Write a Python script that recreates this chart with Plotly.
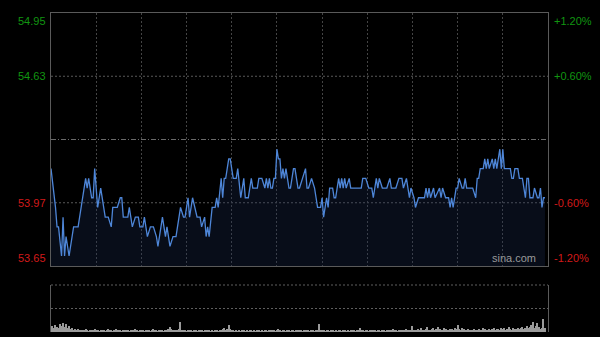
import plotly.graph_objects as go

# ---------------- data ----------------
prev_close = 54.30
pct_levels = [1.2, 0.6, 0.0, -0.6, -1.2]

# minute index (0 = 09:30, 330 = 16:00 trading minutes) and price at turning points
minute_idx = [0, 3, 4, 5, 7, 8, 9, 10, 12, 15, 18, 23, 24, 25, 27, 28, 29, 31, 33, 36,
              38, 40, 41, 44, 46, 47, 48, 51, 52, 54, 56, 58, 59, 61, 62, 64, 66, 68, 70, 71,
              72, 74, 76, 77, 78, 79, 81, 82, 83, 86, 88, 89, 91, 92, 94, 97, 99, 100, 102, 103,
              104, 105, 107, 109, 110, 111, 113, 114, 115, 116, 118, 119, 121, 123, 124, 126, 128, 129, 131, 133,
              134, 137, 138, 140, 142, 143, 144, 145, 146, 147, 148, 149, 150, 151, 152, 153, 154, 155, 156, 158,
              159, 161, 162, 164, 165, 167, 169, 170, 171, 173, 175, 176, 177, 179, 180, 181, 183, 184, 185, 187,
              188, 189, 191, 192, 193, 194, 195, 196, 198, 199, 206, 207, 209, 211, 213, 214, 216, 217, 218, 220,
              223, 225, 226, 229, 231, 233, 234, 236, 237, 238, 239, 241, 242, 244, 248, 249, 250, 251, 252, 254,
              255, 258, 259, 260, 262, 264, 265, 266, 267, 268, 269, 270, 271, 273, 274, 275, 276, 280, 282, 283,
              284, 285, 287, 288, 289, 290, 291, 293, 294, 295, 296, 297, 298, 299, 300, 301, 304, 305, 306, 307,
              308, 310, 311, 313, 315, 316, 317, 318, 320, 321, 323, 324, 325, 326, 327, 328]
prices = [54.15, 53.95, 53.85, 53.85, 53.70, 53.90, 53.70, 53.80, 53.70, 53.85, 53.85, 54.10, 54.05, 54.10, 54.00, 54.00, 54.15, 53.95, 54.05, 53.90,
          53.90, 53.85, 53.95, 53.95, 54.00, 54.00, 53.90, 53.90, 53.95, 53.85, 53.90, 53.90, 53.85, 53.85, 53.90, 53.80, 53.85, 53.85, 53.80, 53.75,
          53.80, 53.90, 53.80, 53.85, 53.80, 53.75, 53.80, 53.80, 53.80, 53.95, 53.90, 53.90, 54.00, 53.90, 54.00, 53.90, 53.90, 53.85, 53.90, 53.80,
          53.85, 53.80, 53.95, 53.95, 54.00, 53.95, 54.10, 54.00, 54.10, 54.10, 54.20, 54.20, 54.10, 54.10, 54.15, 54.00, 54.10, 54.00, 54.00, 54.10,
          54.05, 54.05, 54.10, 54.10, 54.05, 54.10, 54.05, 54.10, 54.05, 54.05, 54.10, 54.10, 54.25, 54.20, 54.20, 54.10, 54.15, 54.10, 54.15, 54.05,
          54.05, 54.15, 54.15, 54.05, 54.05, 54.10, 54.15, 54.05, 54.05, 54.10, 54.05, 54.00, 53.95, 53.95, 54.00, 53.90, 54.00, 53.95, 54.05, 54.05,
          54.00, 54.00, 54.10, 54.05, 54.10, 54.05, 54.10, 54.05, 54.10, 54.05, 54.05, 54.10, 54.10, 54.05, 54.05, 54.00, 54.10, 54.05, 54.10, 54.05,
          54.05, 54.10, 54.05, 54.05, 54.10, 54.10, 54.05, 54.10, 54.05, 54.00, 54.05, 54.00, 53.95, 54.00, 54.00, 54.05, 54.00, 54.05, 54.00, 54.05,
          54.00, 54.05, 54.00, 54.05, 54.00, 54.00, 53.95, 54.00, 53.95, 54.00, 54.05, 54.05, 54.10, 54.05, 54.05, 54.10, 54.05, 54.05, 54.00, 54.10,
          54.10, 54.15, 54.15, 54.20, 54.15, 54.20, 54.15, 54.20, 54.15, 54.20, 54.15, 54.20, 54.25, 54.15, 54.25, 54.15, 54.15, 54.15, 54.10, 54.10,
          54.15, 54.15, 54.10, 54.10, 54.00, 54.10, 54.10, 54.00, 54.00, 54.05, 54.00, 54.00, 54.05, 53.95, 54.00, 54.00]

volume = [35, 60, 45, 70, 50, 40, 80, 65, 90, 50, 85, 40, 60, 30, 45, 25, 30, 20, 35, 15,
          20, 25, 15, 30, 20, 10, 15, 25, 20, 35, 15, 20, 10, 15, 25, 20, 10, 15, 30, 20,
          15, 10, 20, 30, 15, 25, 20, 10, 15, 20, 25, 15, 10, 20, 15, 25, 30, 15, 10, 20,
          20, 15, 10, 25, 15, 20, 10, 15, 30, 20, 15, 10, 20, 15, 25, 10, 15, 20, 35, 50,
          30, 20, 15, 25, 20, 30, 100, 25, 15, 20, 10, 15, 20, 15, 10, 15, 20, 10, 15, 20,
          15, 10, 15, 20, 25, 15, 10, 15, 10, 20, 15, 10, 15, 20, 30, 40, 25, 35, 70, 30,
          20, 15, 10, 15, 10, 15, 10, 20, 15, 10, 15, 10, 15, 20, 10, 15, 10, 15, 20, 10,
          15, 10, 20, 15, 10, 15, 20, 25, 15, 10, 20, 30, 15, 10, 15, 20, 10, 15, 20, 10,
          15, 20, 10, 15, 25, 20, 15, 10, 20, 15, 25, 15, 10, 20, 15, 10, 20, 15, 80, 25,
          20, 15, 10, 20, 15, 10, 15, 20, 10, 15, 10, 20, 15, 10, 15, 20, 10, 15, 10, 15,
          20, 15, 10, 25, 15, 40, 20, 15, 10, 15, 20, 10, 15, 20, 25, 15, 10, 20, 15, 10,
          15, 20, 10, 15, 25, 20, 15, 30, 20, 15, 10, 20, 15, 25, 20, 15, 30, 20, 15, 25,
          60, 20, 15, 25, 30, 20, 45, 25, 20, 35, 50, 25, 20, 30, 40, 25, 35, 55, 30, 20,
          25, 40, 30, 20, 25, 35, 30, 20, 45, 30, 70, 35, 25, 40, 30, 25, 20, 30, 25, 20,
          25, 30, 20, 25, 35, 25, 20, 40, 30, 25, 20, 35, 25, 30, 40, 25, 30, 35, 25, 45,
          30, 40, 25, 35, 50, 30, 25, 40, 30, 35, 45, 30, 40, 55, 35, 40, 60, 45, 50, 70,
          100, 45, 60, 90, 50, 35, 40, 130, 40]
volume_idx = list(range(len(volume)))

# ---------------- derived ----------------
price_levels = [prev_close * (1 + p / 100) for p in pct_levels]
ymin, ymax = min(price_levels), max(price_levels)

FONT = "Liberation Sans, Arial, sans-serif"
GREEN = "#119511"
RED = "#d21a1a"
GRID = "#444444"
BORDER = "#5a5a5a"

X0, X1 = 51 / 600, 548 / 600
MAIN_Y = [1 - 266 / 337, 1 - 13 / 337]
VOL_Y = [1 - 332 / 337, 1 - 285 / 337]

fig = go.Figure()

fig.add_trace(go.Scatter(
    x=minute_idx, y=prices, mode="lines",
    line=dict(color="#4e86d8", width=1.3),
    fill="tozeroy", fillcolor="rgba(28,48,88,0.28)",
    hoverinfo="skip", xaxis="x", yaxis="y"))

fig.add_trace(go.Bar(
    x=volume_idx, y=volume, width=0.75,
    marker=dict(color="#9a9a9a", line=dict(width=0)),
    hoverinfo="skip", xaxis="x2", yaxis="y2"))

fig.update_layout(
    width=600, height=337,
    margin=dict(l=0, r=0, t=0, b=0),
    paper_bgcolor="#000000", plot_bgcolor="#000000",
    showlegend=False,
    font=dict(family=FONT, size=11),
    bargap=0,
    xaxis=dict(domain=[X0, X1], range=[0, 330], dtick=30, tick0=0,
               showgrid=True, gridcolor=GRID, griddash="2px,2px", gridwidth=1,
               showticklabels=False, ticks="", zeroline=False,
               showline=True, mirror=True, linecolor=BORDER, linewidth=1,
               fixedrange=True),
    yaxis=dict(domain=MAIN_Y, range=[ymin, ymax], showgrid=False,
               showticklabels=False, ticks="", zeroline=False,
               showline=True, mirror=True, linecolor=BORDER, linewidth=1,
               fixedrange=True),
    xaxis2=dict(domain=[X0, X1], range=[0, 330], anchor="y2",
                showgrid=False, showticklabels=False, ticks="", zeroline=False,
                showline=False, fixedrange=True),
    yaxis2=dict(domain=VOL_Y, range=[0, 470], anchor="x2",
                showgrid=False, showticklabels=False, ticks="", zeroline=False,
                showline=True, mirror=True, linecolor=BORDER, linewidth=1,
                fixedrange=True),
)

# horizontal guide lines in the price panel
for p, lvl in zip(pct_levels, price_levels):
    if p in (1.2, -1.2):
        continue
    fig.add_shape(type="line", xref="x domain", yref="y", x0=0, x1=1, y0=lvl, y1=lvl,
                  line=dict(color="#6a6a6a" if p == 0 else "#585858", width=1,
                            dash="5px,2px,1px,2px" if p == 0 else "2px,2px"),
                  layer="below")

# volume panel dotted lines
for frac in (1.0, 0.5):
    fig.add_shape(type="line", xref="x2 domain", yref="y2 domain", x0=0, x1=1, y0=frac, y1=frac,
                  line=dict(color="#5e5e5e", width=1, dash="2px,2px"), layer="below")

# axis labels
for p, lvl in zip(pct_levels, price_levels):
    if p == 0:
        continue
    col = GREEN if p > 0 else RED
    ya = "top" if p == max(pct_levels) else ("bottom" if p == min(pct_levels) else "middle")
    fig.add_annotation(xref="paper", yref="y", x=48 / 600, y=lvl, text=f"{lvl:.2f}",
                       showarrow=False, xanchor="right", yanchor=ya,
                       font=dict(color=col, size=11, family=FONT))
    fig.add_annotation(xref="paper", yref="y", x=552 / 600, y=lvl, text=f"{p:+.2f}%",
                       showarrow=False, xanchor="left", yanchor=ya,
                       font=dict(color=col, size=11, family=FONT))

fig.add_annotation(xref="paper", yref="y", x=538 / 600, y=ymin, text="sina.com",
                   showarrow=False, xanchor="right", yanchor="bottom",
                   font=dict(color="#9a9a9a", size=11, family=FONT))

fig.write_html("out.html")
